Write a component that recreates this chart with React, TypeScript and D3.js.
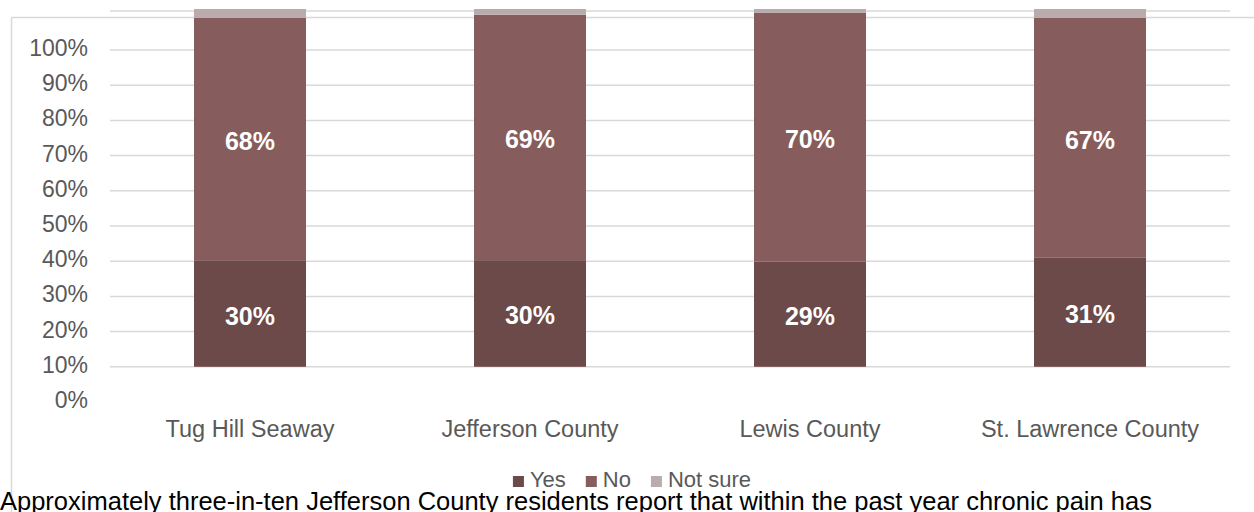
import React from "react";
import * as d3 from "d3";

const categories = ["Tug Hill Seaway", "Jefferson County", "Lewis County", "St. Lawrence County"];
const yesValues = [29.6, 29.8, 29.4, 30.6];
const noValues = [67.9, 68.6, 69.5, 66.9];
const notSureValues = [2.5, 1.6, 1.1, 2.5];
const seriesNames = ["Yes", "No", "Not sure"];
const seriesColors = ["#6b4a49", "#865d5c", "#baacac"];
const tickValues = [0, 10, 20, 30, 40, 50, 60, 70, 80, 90, 100];
const caption =
  "Approximately three-in-ten Jefferson County residents report that within the past year chronic pain has";

const W = 1254;
const H = 512;
const FONT = "'Liberation Sans', Arial, sans-serif";

function measure(text: string, font: string): number {
  const c = document.createElement("canvas").getContext("2d");
  if (!c) return text.length * 10;
  c.font = font;
  return c.measureText(text).width;
}

export default function App() {
  const x = d3.scaleBand<string>().domain(categories).range([110, 1230]).paddingInner(0.6).paddingOuter(0.3);
  const axisY = d3.scaleLinear().domain([0, 100]).range([402, 50]);
  const barY = d3.scaleLinear().domain([0, 100]).range([axisY(10), 9]);

  const rows = categories.map((c, i) => ({
    cat: c,
    Yes: yesValues[i],
    No: noValues[i],
    "Not sure": notSureValues[i],
  }));
  const stack = d3.stack<any>().keys(seriesNames)(rows);

  // legend layout
  const legFont = `22px ${FONT}`;
  const sq = 11;
  const items = seriesNames.map((n) => ({ n, w: measure(n, legFont) }));
  const itemGap = 20;
  const total = items.reduce((s, it) => s + sq + 6 + it.w, 0) + itemGap * (items.length - 1);
  let lx = 632 - total / 2;
  const legendItems = items.map((it, i) => {
    const o = { ...it, x: lx, color: seriesColors[i] };
    lx += sq + 6 + it.w + itemGap;
    return o;
  });

  return (
    <svg
      width={W}
      height={H}
      style={{ position: "absolute", left: 0, top: 0, background: "#fff" }}
      fontFamily={FONT}
    >
      {/* chart border */}
      <line x1={11.5} x2={W} y1={17.5} y2={17.5} stroke="#d9d9d9" strokeWidth={1.5} />
      <line x1={11.5} x2={11.5} y1={17.5} y2={H} stroke="#d9d9d9" strokeWidth={1.5} />

      {/* gridlines */}
      <line x1={110} x2={1230} y1={11} y2={11} stroke="#d9d9d9" strokeWidth={1.5} />
      {tickValues
        .filter((t) => t > 0)
        .map((t) => (
          <line key={t} x1={110} x2={1230} y1={axisY(t)} y2={axisY(t)} stroke="#d9d9d9" strokeWidth={1.5} />
        ))}

      {/* y tick labels */}
      {tickValues.map((t) => (
        <text
          key={t}
          x={88}
          y={axisY(t) - 2}
          textAnchor="end"
          dominantBaseline="central"
          fontSize={23}
          fill="#595959"
        >
          {t}%
        </text>
      ))}

      {/* bars */}
      {stack.map((s, si) => (
        <g key={s.key} fill={seriesColors[si]}>
          {s.map((d: any, i: number) => (
            <rect
              key={i}
              x={x(categories[i])}
              width={x.bandwidth()}
              y={barY(d[1])}
              height={barY(d[0]) - barY(d[1])}
            />
          ))}
        </g>
      ))}

      {/* data labels */}
      {stack.slice(0, 2).map((s) =>
        s.map((d: any, i: number) => (
          <text
            key={s.key + i}
            x={(x(categories[i]) as number) + x.bandwidth() / 2}
            y={(barY(d[0]) + barY(d[1])) / 2 + 2}
            textAnchor="middle"
            dominantBaseline="central"
            fontSize={25}
            fontWeight="bold"
            fill="#ffffff"
          >
            {Math.round(d[1] - d[0])}%
          </text>
        ))
      )}

      {/* category labels */}
      {categories.map((c) => (
        <text
          key={c}
          x={(x(c) as number) + x.bandwidth() / 2}
          y={437}
          textAnchor="middle"
          fontSize={23.5}
          fill="#595959"
        >
          {c}
        </text>
      ))}

      {/* legend */}
      {legendItems.map((it) => (
        <g key={it.n}>
          <rect x={it.x} y={476} width={sq} height={sq} fill={it.color} />
          <text x={it.x + sq + 6} y={487} fontSize={22} fill="#595959">
            {it.n}
          </text>
        </g>
      ))}

      {/* caption */}
      <text x={0} y={510} fontSize={25.5} fill="#000">
        {caption}
      </text>
    </svg>
  );
}
